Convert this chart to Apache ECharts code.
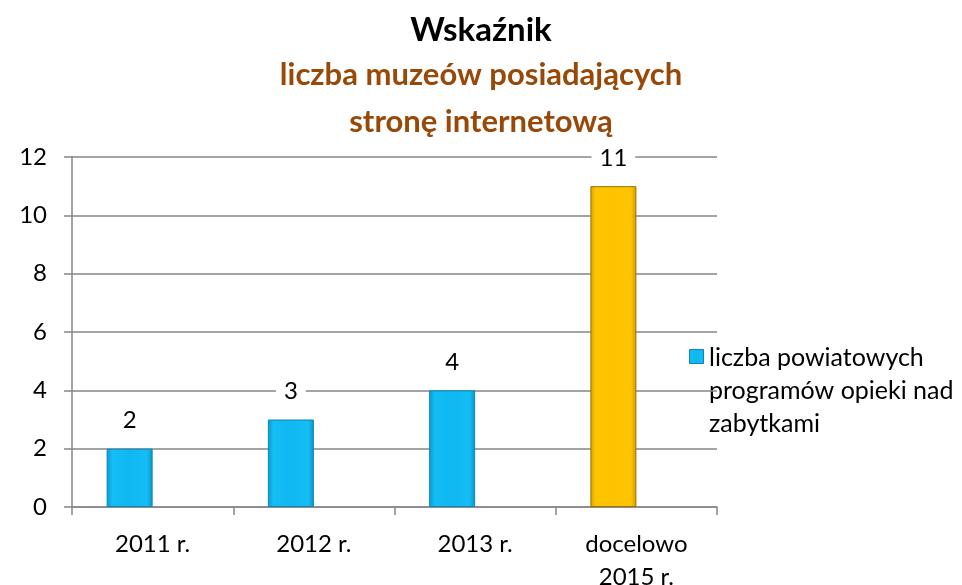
<!DOCTYPE html>
<html><head><meta charset="utf-8">
<script src="https://cdn.jsdelivr.net/npm/echarts@6/dist/echarts.min.js"></script>
<style>html,body{margin:0;padding:0;background:#fff}#c{width:962px;height:585px}</style>
</head><body><div id="c"></div>
<script>
const categories = ['2011 r.', '2012 r.', '2013 r.', 'docelowo\n2015 r.'];
const values = [2, 3, 4, 11];
const targetIndex = 3;
const yTicks = [0, 2, 4, 6, 8, 10, 12];
const seriesName = 'liczba powiatowych\nprogramów opieki nad\nzabytkami';
const titleMain = 'Wskaźnik';
const titleSub = 'liczba muzeów posiadających\nstronę internetową';

const FONT = 'Lato';
const blueGrad = new echarts.graphic.LinearGradient(0, 0, 1, 0, [
  {offset: 0, color: '#0A9AD0'}, {offset: 0.12, color: '#14BDF4'},
  {offset: 0.5, color: '#0FB8F2'}, {offset: 0.88, color: '#14BDF4'}, {offset: 1, color: '#0A93C8'}]);
const yellowGrad = new echarts.graphic.LinearGradient(0, 0, 1, 0, [
  {offset: 0, color: '#D9A000'}, {offset: 0.12, color: '#FFC400'},
  {offset: 0.5, color: '#FFC200'}, {offset: 0.88, color: '#FFC400'}, {offset: 1, color: '#D49A00'}]);

const chart = echarts.init(document.getElementById('c'));
chart.setOption({
  animation: false,
  backgroundColor: '#fff',
  title: [
    {text: titleMain, left: 'center', top: 6,
     textStyle: {fontFamily: FONT, fontSize: 33, fontWeight: 'bold', color: '#000', lineHeight: 38}},
    {text: titleSub, left: 'center', top: 46,
     textStyle: {fontFamily: FONT, fontSize: 31, fontWeight: 'bold', color: '#984807', lineHeight: 47, align: 'center'}}
  ],
  legend: {show: false},
  graphic: [
    {type: 'rect', left: 689, top: 349, shape: {width: 14, height: 14},
     style: {fill: blueGrad, stroke: '#0A86B8', lineWidth: 1}},
    {type: 'text', left: 709, top: 341,
     style: {text: seriesName, fontFamily: FONT, fontSize: 25, fill: '#000', lineHeight: 33}}
  ],
  grid: {left: 72, right: 245, top: 157, bottom: 78, containLabel: false, outerBoundsMode: 'none'},
  xAxis: {
    type: 'category', data: categories,
    axisLine: {lineStyle: {color: '#868686', width: 1.5}},
    axisTick: {show: true, length: 8, lineStyle: {color: '#868686', width: 1.5}},
    axisLabel: {fontFamily: FONT, fontSize: 24, color: '#000', margin: 21, lineHeight: 33}
  },
  yAxis: {
    type: 'value', min: 0, max: 12, interval: 2,
    axisLine: {show: true, lineStyle: {color: '#868686', width: 1.5}},
    axisTick: {show: true, length: 8, lineStyle: {color: '#868686', width: 1.5}},
    splitLine: {lineStyle: {color: '#868686', width: 1.5}},
    axisLabel: {fontFamily: FONT, fontSize: 24, color: '#000', margin: 25,
      formatter: v => yTicks.includes(v) ? String(v) : ''}
  },
  series: [
    {
      name: seriesName, type: 'bar', barWidth: 46, barGap: '0%',
      data: values.map((v, i) => ({value: v, itemStyle: i === targetIndex
        ? {color: yellowGrad, borderColor: '#9C7300', borderWidth: 1}
        : {color: blueGrad, borderColor: '#0A86B8', borderWidth: 1}})),
      label: {show: true, position: 'top', distance: 14, fontFamily: FONT, fontSize: 24, color: '#000',
        backgroundColor: '#fff', padding: [2, 8]}
    },
    {name: '_empty', type: 'bar', barWidth: 46, data: values.map(() => '-')}
  ]
});
</script></body></html>
